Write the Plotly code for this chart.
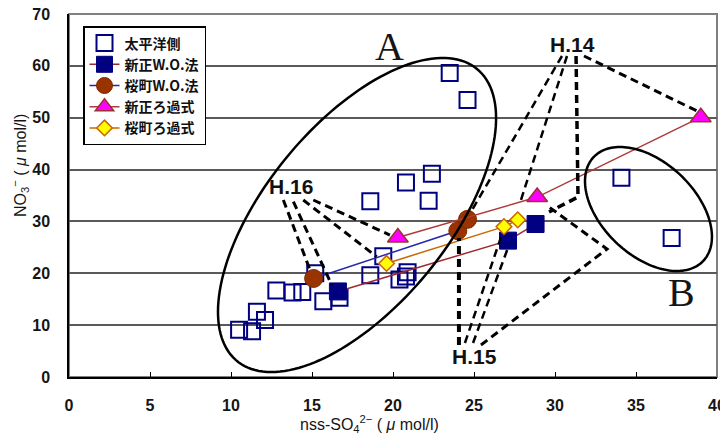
import numpy as np
import plotly.graph_objects as go

# ---- data -------------------------------------------------------------
# 太平洋側 (open squares)
pacific_x = [10.5, 11.3, 12.1, 11.6, 12.8, 13.8, 14.4, 15.2, 15.7, 16.7,
             18.6, 19.4, 20.4, 20.9, 20.8, 18.6, 20.8, 22.2, 22.4, 23.5,
             24.6, 34.1, 37.2]
pacific_y = [9.1, 8.8, 11.0, 12.6, 16.7, 16.3, 16.4, 20.0, 14.6, 15.3,
             19.6, 23.3, 18.8, 20.2, 19.4, 33.9, 37.5, 34.0, 39.2, 58.6,
             53.4, 38.4, 26.8]

# Order of points in each series: H.16, H.15, H.14
shinsho_wo_x = [16.6, 27.1, 28.8]
shinsho_wo_y = [16.5, 26.3, 29.5]

sakuramachi_wo_x = [15.1, 24.0, 24.6]
sakuramachi_wo_y = [19.0, 28.2, 30.4]

shinsho_filter_x = [20.3, 28.9, 39.0]
shinsho_filter_y = [26.9, 34.7, 50.1]

sakuramachi_filter_x = [19.6, 26.85, 27.7]
sakuramachi_filter_y = [21.9, 29.0, 30.3]

series_names = ["太平洋側", "新正W.O.法", "桜町W.O.法", "新正ろ過式", "桜町ろ過式"]
x_ticks = [0, 5, 10, 15, 20, 25, 30, 35, 40]
y_ticks = [0, 10, 20, 30, 40, 50, 60, 70]

# ---- layout constants ---------------------------------------------------
W, H = 720, 434
M_L, M_R, M_T, M_B = 69, 3, 14, 57
PLOT_W = W - M_L - M_R
PLOT_H = H - M_T - M_B
X_MAX, Y_MAX = 40, 70
PX_X = PLOT_W / X_MAX          # pixels per x unit
PX_Y = PLOT_H / Y_MAX          # pixels per y unit

SANS = "Liberation Sans Narrow, Arial Narrow, Liberation Sans, Arial"
JP = "Noto Sans CJK JP"


def px_to_paper(px, py):
    """Screen pixel position -> paper coordinates of the plot area."""
    return (px - M_L) / PLOT_W, (M_T + PLOT_H - py) / PLOT_H


fig = go.Figure()

fig.add_trace(go.Scatter(
    x=pacific_x, y=pacific_y, mode="markers", name=series_names[0],
    marker=dict(symbol="square-open", size=16, color="#000080",
                line=dict(width=2, color="#000080")),
))
fig.add_trace(go.Scatter(
    x=shinsho_wo_x, y=shinsho_wo_y, mode="lines+markers", name=series_names[1],
    line=dict(color="#A0282D", width=1.5),
    marker=dict(symbol="square", size=17, color="#000080",
                line=dict(width=1, color="#000080")),
))
fig.add_trace(go.Scatter(
    x=sakuramachi_wo_x, y=sakuramachi_wo_y, mode="lines+markers", name=series_names[2],
    line=dict(color="#2626B0", width=1.5),
    marker=dict(symbol="circle", size=18, color="#993300",
                line=dict(width=1, color="#802800")),
))
fig.add_trace(go.Scatter(
    x=shinsho_filter_x, y=shinsho_filter_y, mode="lines+markers", name=series_names[3],
    line=dict(color="#B03A3A", width=1.5),
    marker=dict(symbol="triangle-up", size=18, color="#FF00FF",
                line=dict(width=1.5, color="#993333")),
))
fig.add_trace(go.Scatter(
    x=sakuramachi_filter_x, y=sakuramachi_filter_y, mode="lines+markers", name=series_names[4],
    line=dict(color="#CC6600", width=1.5),
    marker=dict(symbol="diamond", size=12, color="#FFFF00",
                line=dict(width=1.5, color="#CC6600")),
))


# ---- grouping ellipses (defined in screen pixels, converted to data) ----
def ellipse_path(cx, cy, a_px, b_px, theta_deg, n=160):
    t = np.linspace(0, 2 * np.pi, n)
    th = np.radians(theta_deg)
    ux, uy = a_px * np.cos(t), b_px * np.sin(t)
    dx = ux * np.cos(th) - uy * np.sin(th)
    dy = ux * np.sin(th) + uy * np.cos(th)
    xs = cx + dx / PX_X
    ys = cy + dy / PX_Y
    pts = [f"{x:.3f},{y:.3f}" for x, y in zip(xs, ys)]
    return "M" + " L".join(pts) + " Z"


shapes = []
# plot frame: grey on top/right, axes lines draw black on left/bottom
shapes.append(dict(type="rect", xref="paper", yref="paper", x0=0, y0=0, x1=1, y1=1,
                   line=dict(color="#808080", width=2), layer="below"))

for cx, cy, a, b, th in [(17.78, 31.24, 189, 91, 50.6),
                         (35.77, 32.40, 75.5, 46.6, -43.5)]:
    shapes.append(dict(type="path", xref="x", yref="y",
                       path=ellipse_path(cx, cy, a, b, th),
                       line=dict(color="black", width=2.5), layer="above"))

# dashed leader lines from the year labels to each year's points
leaders = [
    # H.16
    ([13.23, 14.88], [34.13, 20.63], 3),
    ([13.85, 16.22], [33.80, 17.74], 3),
    ([14.46, 18.99], [34.13, 23.20], 3),
    ([15.08, 19.81], [34.13, 27.38], 3),
    # H.14
    ([30.43, 24.88], [61.90, 32.20], 2.5),
    ([30.74, 27.84], [61.90, 33.55], 2.5),
    ([31.30, 31.42, 29.63], [61.90, 34.71, 31.82], 3.5),
    ([31.79, 38.77], [61.90, 51.29], 3),
    # H.15
    ([24.07, 24.07], [6.17, 26.80], 4),
    ([24.44, 26.67], [6.56, 27.00], 2.5),
    ([24.94, 27.16], [6.56, 25.45], 2.5),
    ([25.43, 33.21, 29.63], [6.17, 24.68, 32.78], 3),
]
for xs, ys, w in leaders:
    path = "M" + " L".join(f"{x},{y}" for x, y in zip(xs, ys))
    shapes.append(dict(type="path", xref="x", yref="y", path=path,
                       line=dict(color="black", width=w, dash="8px,5px"),
                       layer="above"))

annotations = [
    dict(x=13.73, y=36.83, text="H.16"),
    dict(x=31.05, y=64.21, text="H.14"),
    dict(x=25.06, y=3.86, text="H.15"),
]
for a in annotations:
    a.update(xref="x", yref="y", showarrow=False, xanchor="center", yanchor="middle",
             font=dict(family="Liberation Sans, Arial", size=21, color="#111111",
                       weight="bold"))

xt_x, xt_y = px_to_paper(369, 424)
yt_x, yt_y = px_to_paper(20, 166)
annotations += [
    dict(x=19.8, y=63.8, xref="x", yref="y", text="A", showarrow=False,
         xanchor="center", yanchor="middle",
         font=dict(family="Liberation Serif, Times New Roman, serif", size=40, color="#151515")),
    dict(x=37.8, y=16.2, xref="x", yref="y", text="B", showarrow=False,
         xanchor="center", yanchor="middle",
         font=dict(family="Liberation Serif, Times New Roman, serif", size=40, color="#151515")),
    dict(x=xt_x, y=xt_y, xref="paper", yref="paper", showarrow=False,
         xanchor="center", yanchor="middle",
         text="nss-SO<sub>4</sub><sup>2−</sup> ( <i>μ</i> mol/l)",
         font=dict(family=SANS, size=16, color="#151515")),
    dict(x=yt_x, y=yt_y, xref="paper", yref="paper", showarrow=False, textangle=-90,
         xanchor="center", yanchor="middle",
         text="NO<sub>3</sub><sup>−</sup> ( <i>μ</i> mol/l)",
         font=dict(family=SANS, size=16, color="#151515")),
]

lg_x, lg_y = px_to_paper(83, 26)
fig.update_layout(
    width=W, height=H,
    margin=dict(l=M_L, r=M_R, t=M_T, b=M_B, autoexpand=False),
    paper_bgcolor="white", plot_bgcolor="white",
    shapes=shapes, annotations=annotations,
    showlegend=True,
    legend=dict(x=lg_x, y=lg_y, xanchor="left", yanchor="top",
                bgcolor="white", bordercolor="black", borderwidth=1.5,
                font=dict(family=JP, size=14, color="#111111", weight="bold"),
                tracegroupgap=0, itemsizing="trace"),
    xaxis=dict(range=[0, X_MAX], tickvals=x_ticks, ticktext=[str(v) for v in x_ticks],
               showgrid=False, zeroline=False, showline=True, linecolor="black", linewidth=1.5,
               ticks="inside", ticklen=5, tickcolor="black", tickwidth=1,
               ticklabelstandoff=13, ticklabeloverflow="allow",
               tickfont=dict(family=SANS, size=16, color="#151515", weight="bold")),
    yaxis=dict(range=[0, Y_MAX], tickvals=y_ticks, ticktext=[str(v) for v in y_ticks],
               showgrid=True, gridcolor="#5a5a5a", gridwidth=1.5,
               zeroline=False, showline=True, linecolor="black", linewidth=1.5,
               ticks="", ticklabelstandoff=14, ticklabeloverflow="allow",
               tickfont=dict(family=SANS, size=16, color="#151515", weight="bold")),
)

fig.write_html("out.html")
